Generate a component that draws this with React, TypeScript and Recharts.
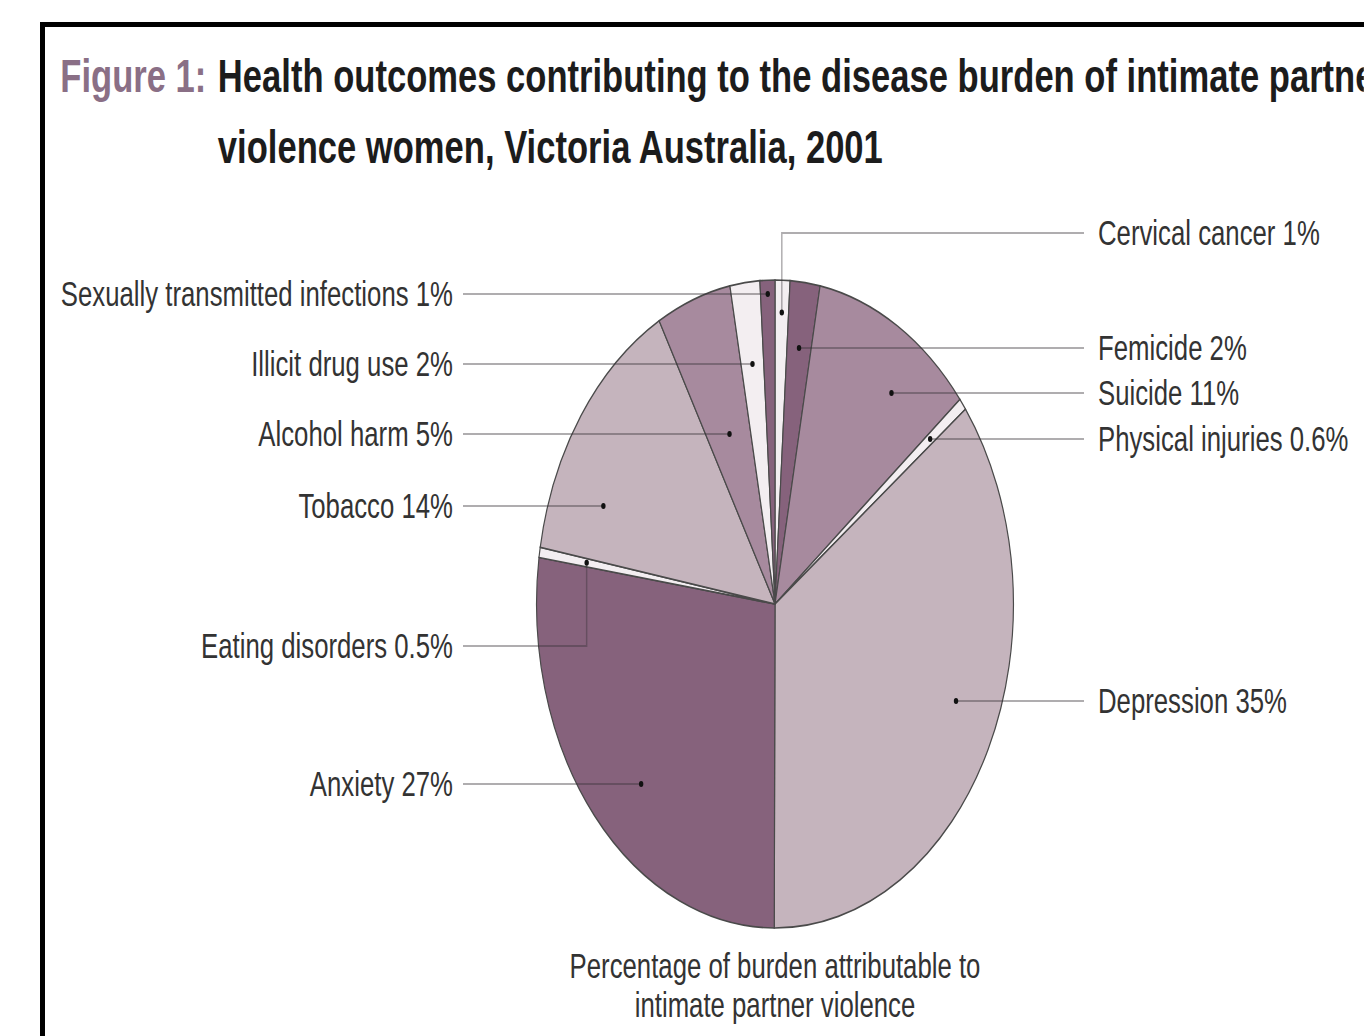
import { PieChart, Pie, Cell } from 'recharts';

// Health outcomes, clockwise from 12 o'clock
const outcomes = [
  'Cervical cancer',
  'Femicide',
  'Suicide',
  'Physical injuries',
  'Depression',
  'Anxiety',
  'Eating disorders',
  'Tobacco',
  'Alcohol harm',
  'Illicit drug use',
  'Sexually transmitted infections',
];
const burdenShare = [1, 2, 11, 0.6, 35, 27, 0.5, 14, 5, 2, 1];
const shareText = ['1%', '2%', '11%', '0.6%', '35%', '27%', '0.5%', '14%', '5%', '2%', '1%'];
const tone = ['pale', 'dark', 'mid', 'pale', 'light', 'dark', 'pale', 'light', 'mid', 'pale', 'dark'];

const TONES: Record<string, string> = {
  dark: '#86627c',
  mid: '#a78a9e',
  light: '#c5b4bd',
  pale: '#f3eef1',
};

// callout placement: side of the pie, row y, optional elbow radius, aim within slice
const callouts = [
  { side: 'right', y: 233, bend: 0.9 },
  { side: 'right', y: 348 },
  { side: 'right', y: 393, aim: 0.65 },
  { side: 'right', y: 439 },
  { side: 'right', y: 701, aim: 0.46 },
  { side: 'left', y: 784, aim: 0.46 },
  { side: 'left', y: 646, bend: 0.8 },
  { side: 'left', y: 506, aim: 0.25 },
  { side: 'left', y: 434 },
  { side: 'left', y: 364 },
  { side: 'left', y: 294 },
];

const SX = 0.736; // horizontal squash of the whole figure
const W = 1364 / SX;
const H = 1036;
const CX = 1053;
const CY = 604;
const R = 324;
const LEFT_TEXT = 453 / SX;
const LEFT_LINE = 463 / SX;
const RIGHT_TEXT = 1098 / SX;
const RIGHT_LINE = 1084 / SX;
const FONT = '"Liberation Sans", Arial, sans-serif';

const slices = outcomes.map((name, i) => ({
  name,
  value: burdenShare[i],
  text: shareText[i],
  fill: TONES[tone[i]],
}));

const RAD = Math.PI / 180;

const renderCallout = (props: any) => {
  const { index } = props;
  const cx = props.cx ?? CX;
  const cy = props.cy ?? CY;
  const r = props.outerRadius ?? R;
  const row = callouts[index];
  const s = slices[index];
  const start = props.startAngle;
  const end = props.endAngle;
  let ang = props.midAngle;
  if (row.aim != null && start != null && end != null) ang = start + (end - start) * row.aim;
  const dx = Math.cos(-ang * RAD);
  const dy = Math.sin(-ang * RAD);

  const lineEnd = row.side === 'left' ? LEFT_LINE : RIGHT_LINE;
  let px: number;
  let py: number;
  let pts: string;
  if (row.bend) {
    px = cx + r * row.bend * dx;
    py = cy + r * row.bend * dy;
    pts = `${px},${py} ${px},${row.y} ${lineEnd},${row.y}`;
  } else {
    const t = (row.y - cy) / dy;
    px = cx + t * dx;
    py = row.y;
    pts = `${px},${py} ${lineEnd},${row.y}`;
  }

  return (
    <g key={`callout-${index}`}>
      <polyline points={pts} fill="none" stroke="rgba(55,50,55,0.4)" strokeWidth={2} />
      <circle cx={px} cy={py} r={3} fill="#111" />
      <text
        x={row.side === 'left' ? LEFT_TEXT : RIGHT_TEXT}
        y={row.y + 12}
        textAnchor={row.side === 'left' ? 'end' : 'start'}
        fontFamily={FONT}
        fontSize={35}
        fill="#333"
      >
        {`${s.name} ${s.text}`}
      </text>
    </g>
  );
};

export default function App() {
  return (
    <div
      style={{
        position: 'fixed',
        left: 0,
        top: 0,
        width: 1364,
        height: 1036,
        overflow: 'hidden',
        background: '#fff',
      }}
    >
      {/* black frame running off the right and bottom edges */}
      <div
        style={{
          position: 'absolute',
          left: 40,
          top: 22,
          width: 1400,
          height: 1100,
          borderTop: '5px solid #000',
          borderLeft: '5px solid #000',
        }}
      />
      <div
        style={{
          position: 'absolute',
          left: 0,
          top: 0,
          width: W,
          height: H,
          transform: `scaleX(${SX})`,
          transformOrigin: '0 0',
        }}
      >
        <PieChart width={W} height={H} margin={{ top: 0, right: 0, bottom: 0, left: 0 }}>
          <Pie
            data={slices}
            dataKey="value"
            nameKey="name"
            cx={CX}
            cy={CY}
            outerRadius={R}
            startAngle={90}
            endAngle={-270}
            stroke="#4a4a4a"
            strokeWidth={1.6}
            label={renderCallout}
            labelLine={false}
            isAnimationActive={false}
          >
            {slices.map((d, i) => (
              <Cell key={`slice-${i}`} fill={d.fill} />
            ))}
          </Pie>
        </PieChart>
        <svg
          width={W}
          height={H}
          style={{ position: 'absolute', left: 0, top: 0, pointerEvents: 'none' }}
        >
          <text x={82} y={92} fontFamily={FONT} fontWeight="bold" fontSize={47} fill="#8a6f86">
            Figure 1:
          </text>
          <text x={296} y={92} fontFamily={FONT} fontWeight="bold" fontSize={47} fill="#1c1c1c">
            Health outcomes contributing to the disease burden of intimate partner
          </text>
          <text x={296} y={163} fontFamily={FONT} fontWeight="bold" fontSize={47} fill="#1c1c1c">
            violence women, Victoria Australia, 2001
          </text>
          <text x={CX} y={978} textAnchor="middle" fontFamily={FONT} fontSize={35} fill="#333">
            Percentage of burden attributable to
          </text>
          <text x={CX} y={1017} textAnchor="middle" fontFamily={FONT} fontSize={35} fill="#333">
            intimate partner violence
          </text>
        </svg>
      </div>
    </div>
  );
}
